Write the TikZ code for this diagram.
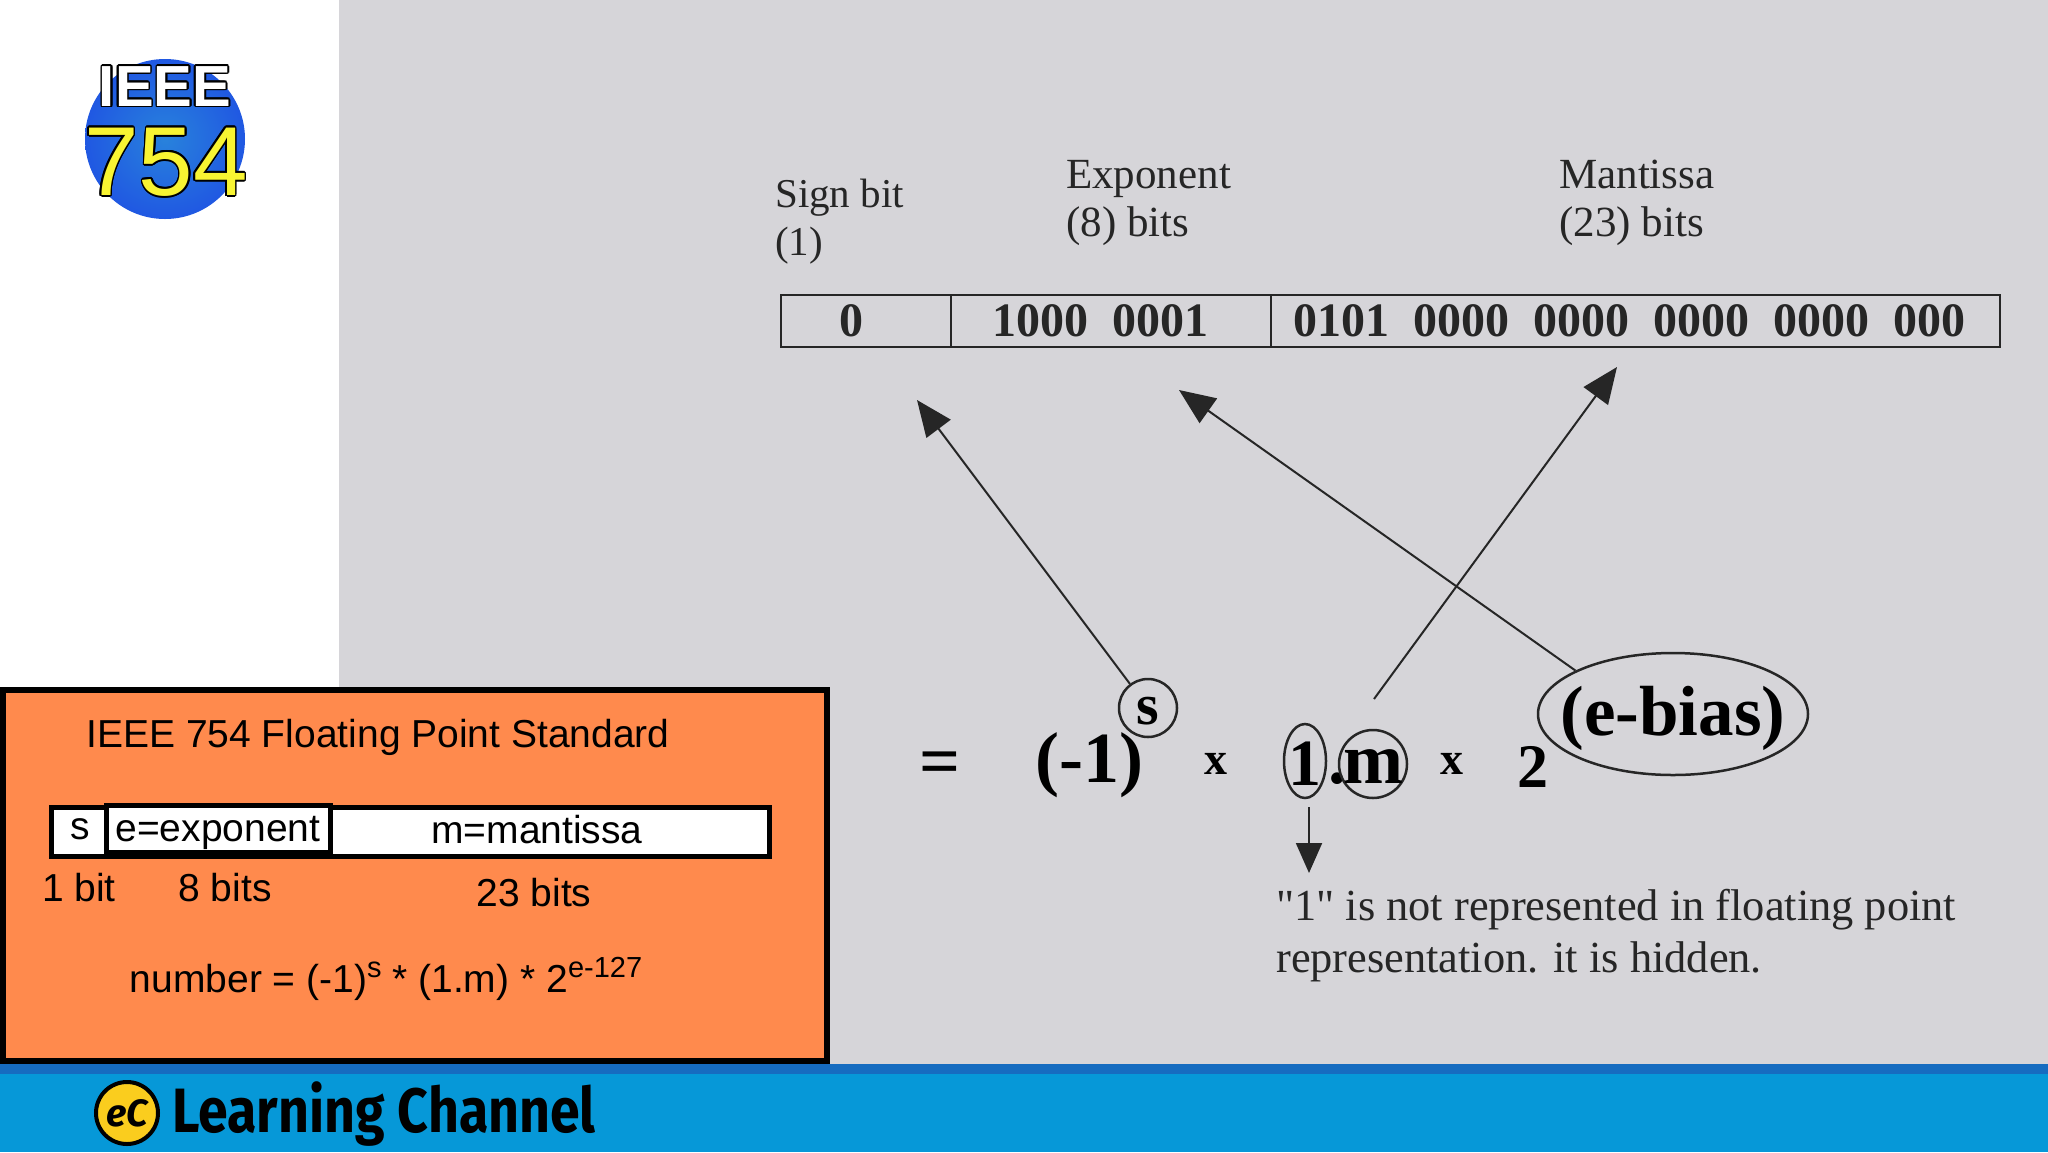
\documentclass[tikz,border=0pt]{standalone}
\usepackage{fontspec}
\usepackage{xcolor}
\usepackage[copies]{contour}
\setmainfont{Liberation Sans}
\newfontfamily\scanfont{Liberation Serif}
\newfontfamily\brandfont{Fira Sans}
\usetikzlibrary{shapes.geometric, arrows.meta, positioning}
\definecolor{panelgray}{RGB}{214,213,217}
\definecolor{boxorange}{RGB}{255,138,77}
\definecolor{bandblue}{RGB}{6,152,216}
\definecolor{stripblue}{RGB}{22,108,192}
\definecolor{logoblue}{RGB}{32,88,226}
\definecolor{logolight}{RGB}{40,130,220}
\definecolor{logoyellow}{RGB}{248,244,50}
\definecolor{badgeyellow}{RGB}{250,205,30}
\contourlength{1.6pt}
\newcommand{\raisedbit}[1]{\raisebox{15pt}{\fontsize{29}{29}\selectfont #1}}

\begin{document}
\begin{tikzpicture}[
        x=1pt, y=-1pt,
        label/.style={font=\fontsize{39}{46}\selectfont, inner sep=0pt},
        cell/.style={rectangle, draw=black, line width=5pt, fill=white, inner sep=0pt},
        scan/.style={font=\scanfont\fontsize{43}{48}\selectfont, text=black!85, inner sep=0pt, align=left},
        bits/.style={font=\scanfont\bfseries\fontsize{48}{52}\selectfont, text=black!85, inner sep=0pt},
        formula/.style={font=\scanfont\bfseries\fontsize{72}{78}\selectfont, inner sep=0pt},
        ring/.style={ellipse, draw=black!85, line width=2.5pt, inner sep=0pt},
        arrow/.style={-{Triangle[length=36pt, width=30pt]}, line width=2pt, black!85},
        smallarrow/.style={-{Triangle[length=30pt, width=26pt]}, line width=2pt, black!85}
    ]
        \useasboundingbox (0,0) rectangle (2048,1152);

        % Backgrounds
        \fill[white] (0,0) rectangle (2048,1152);
        \fill[panelgray] (339,0) rectangle (2048,1066);
        \fill[bandblue] (0,1064) rectangle (2048,1152);
        \fill[stripblue] (0,1064) rectangle (2048,1074);

        % Logo
        \node[circle, minimum size=160pt, inner sep=0pt, inner color=logolight, outer color=logoblue] (logo) at (165,139) {};
        \node[inner sep=0pt, font=\bfseries\fontsize{58}{58}\selectfont] (logotop) at (165,87) {\contour{black}{\textcolor{white}{IEEE}}};
        \node[inner sep=0pt, font=\fontsize{98}{98}\selectfont] (logonum) at (166,163) {\contour{black}{\textcolor{logoyellow}{754}}};

        % Orange box
        \node[rectangle, draw=black, line width=6pt, fill=boxorange, minimum width=824pt, minimum height=371pt, inner sep=0pt] (stdbox) at (415,875.5) {};
        \node[label] (stdtitle) at (378,737) {IEEE 754 Floating Point Standard};
        \node[cell, minimum width=718pt, minimum height=49pt] (mfield) at (410,832) {};
        \node[cell, minimum width=224pt, minimum height=47pt] (efield) at (218,829) {};
        \node[label] (stext) at (80,829) {s};
        \node[label] (etext) at (218,833) {e=exponent};
        \node[label] (mtext) at (537,830) {m=mantissa};
        \node[label] (sbits) at (79,888) {1 bit};
        \node[label] (ebits) at (225,888) {8 bits};
        \node[label] (mbits) at (534,893) {23 bits};
        \node[label] (numberline) at (386,979) {number = (-1)\raisedbit{s} * (1.m) * 2\raisedbit{e-127}};

        % Bit layout
        \node[rectangle, draw=black!85, line width=2.5pt, minimum width=1219pt, minimum height=52pt, inner sep=0pt] (layout) at (1390.5,321) {};
        \coordinate (layouta) at (951,295);
        \coordinate (layoutb) at (1271,295);
        \coordinate (layoutc) at (951,347);
        \coordinate (layoutd) at (1271,347);
        \draw[black!85, line width=2pt] (layouta) -- (layoutc);
        \draw[black!85, line width=2pt] (layoutb) -- (layoutd);
        \node[bits] (signval) at (851,321) {0};
        \node[bits] (expval) at (1100,321) {1000\hspace{0.5em}0001};
        \node[bits] (manval) at (1629,321) {0101\hspace{0.5em}0000\hspace{0.5em}0000\hspace{0.5em}0000\hspace{0.5em}0000\hspace{0.5em}000};

        \node[scan, anchor=west, font=\scanfont\fontsize{41}{48}\selectfont] (signlabel) at (775,222) {Sign bit\\(1)};
        \node[scan, anchor=west] (explabel) at (1066,203) {Exponent\\(8) bits};
        \node[scan, anchor=west] (manlabel) at (1559,203) {Mantissa\\(23) bits};

        % Formula
        \node[formula] (equals) at (940,769) {=};
        \node[formula] (minusone) at (1089,765) {(-1)};
        \node[ring, circle, minimum size=58pt] (sring) at (1148,708) {};
        \node[formula, font=\scanfont\bfseries\fontsize{58}{58}\selectfont] (stxt) at (1148,711) {s};
        \node[formula, font=\scanfont\bfseries\fontsize{46}{46}\selectfont] (timesa) at (1216,764) {x};
        \node[ring, minimum width=42pt, minimum height=74pt] (onering) at (1305,761) {};
        \node[formula, font=\scanfont\bfseries\fontsize{66}{70}\selectfont] (onetxt) at (1305,764) {1};
        \node[formula] (dot) at (1337,779) {.};
        \node[ring, circle, minimum size=68pt] (mring) at (1373,764) {};
        \node[formula] (mtxt) at (1373,767) {m};
        \node[formula, font=\scanfont\bfseries\fontsize{46}{46}\selectfont] (timesb) at (1452,764) {x};
        \node[formula, font=\scanfont\bfseries\fontsize{62}{70}\selectfont] (two) at (1533,767) {2};
        \node[ring, minimum width=270pt, minimum height=122pt] (ering) at (1673,714) {};
        \node[formula, font=\scanfont\bfseries\fontsize{71}{76}\selectfont] (etxt) at (1673,718) {(e-bias)};

        % Arrows
        \coordinate (signtip) at (917,400);
        \coordinate (exptip) at (1179,390);
        \coordinate (mantip) at (1617,367);
        \coordinate (mstart) at (1374,699);
        \coordinate (hiddenstart) at (1309,807);
        \coordinate (hiddentip) at (1309,873);
        \draw[arrow] (sring) -- (signtip);
        \draw[arrow] (ering.156) -- (exptip);
        \draw[arrow] (mstart) -- (mantip);
        \draw[smallarrow] (hiddenstart) -- (hiddentip);

        % Note
        \node[scan, anchor=north west, font=\scanfont\fontsize{44.4}{52}\selectfont] (hiddennote) at (1276,889) {"1" is not represented in floating point\\representation. it is hidden.};

        % Brand
        \node[circle, draw=black, line width=4pt, fill=badgeyellow, minimum size=62pt, inner sep=0pt] (badge) at (127,1113) {};
        \node[inner sep=0pt, font=\brandfont\bfseries\itshape\fontsize{38}{38}\selectfont] (badgetxt) at (127,1113) {eC};
        \node[inner sep=0pt, anchor=west, font=\brandfont\bfseries\fontsize{58}{58}\selectfont] (brand) at (172,1114) {\scalebox{0.925}[1.08]{Learning Channel}};
    \end{tikzpicture}
\end{document}
